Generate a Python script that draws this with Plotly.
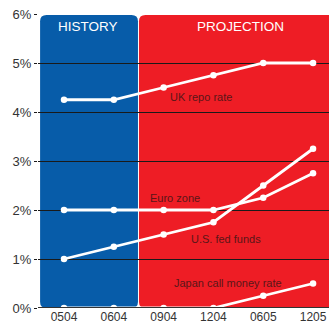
import plotly.graph_objects as go

periods = ["0504", "0604", "0904", "1204", "0605", "1205"]
uk_repo = [4.25, 4.25, 4.5, 4.75, 5.0, 5.0]
euro_zone = [2.0, 2.0, 2.0, 2.0, 2.25, 2.75]
us_fed = [1.0, 1.25, 1.5, 1.75, 2.5, 3.25]
japan_call = [0.0, 0.0, 0.0, 0.0, 0.25, 0.5]
y_ticks = [0, 1, 2, 3, 4, 5, 6]

xs = list(range(len(periods)))

BLUE = "#075ca9"
RED = "#ee1d25"
LABEL = "#5a1618"
FONT = "Liberation Sans, Arial"


def rounded_rect(x0, x1, y0, y1, rx, ry):
    return (f"M {x0+rx},{y0} L {x1-rx},{y0} Q {x1},{y0} {x1},{y0+ry} "
            f"L {x1},{y1-ry} Q {x1},{y1} {x1-rx},{y1} "
            f"L {x0+rx},{y1} Q {x0},{y1} {x0},{y1-ry} "
            f"L {x0},{y0+ry} Q {x0},{y0} {x0+rx},{y0} Z")


fig = go.Figure()
for series in (uk_repo, euro_zone, us_fed, japan_call):
    fig.add_trace(go.Scatter(
        x=xs, y=series, mode="lines+markers",
        line=dict(color="white", width=2.8),
        marker=dict(color="white", size=6.5),
        cliponaxis=False, showlegend=False, hoverinfo="skip"))

rx, ry = 0.13, 0.13
fig.add_shape(type="path", path=rounded_rect(-0.48, 1.485, 0, 5.98, rx, ry),
              fillcolor=BLUE, line=dict(width=0), layer="below")
fig.add_shape(type="path", path=rounded_rect(1.505, 5.5, 0, 5.98, rx, ry),
              fillcolor=RED, line=dict(width=0), layer="below")

notes = [
    ("HISTORY", 0.48, 5.74, "center", "white", 13.5),
    ("PROJECTION", 3.55, 5.74, "center", "white", 13.5),
    ("UK repo rate", 2.09, 4.31, "left", LABEL, 11),
    ("Euro zone", 1.69, 2.24, "left", LABEL, 11),
    ("U.S. fed funds", 2.51, 1.41, "left", LABEL, 11),
    ("Japan call money rate", 2.17, 0.51, "left", LABEL, 11),
]
for text, x, y, anchor, color, size in notes:
    fig.add_annotation(x=x, y=y, text=text, showarrow=False, xanchor=anchor,
                       yanchor="middle",
                       font=dict(color=color, size=size, family=FONT))

fig.update_layout(
    width=329, height=324,
    margin=dict(l=38, r=0, t=14, b=16),
    paper_bgcolor="white", plot_bgcolor="rgba(0,0,0,0)",
    font=dict(family=FONT, size=13, color="#333333"),
    xaxis=dict(range=[-0.522, 5.32], tickvals=xs, ticktext=periods,
               showgrid=False, zeroline=False, showline=False, automargin=False,
               ticks="", ticklabelstandoff=0,
               tickfont=dict(size=12, color="#333333")),
    yaxis=dict(range=[0, 6], tickvals=y_ticks,
               ticktext=[f"{v}%" for v in y_ticks], automargin=False,
               showgrid=True, gridcolor="#1a1a1a", gridwidth=1,
               zeroline=False, showline=False,
               ticks="outside", ticklen=3, tickcolor="#1a1a1a",
               tickfont=dict(size=13, color="#333333")),
)
fig.add_hline(y=0, line=dict(color="#333333", width=2))

fig.write_html("out.html")
